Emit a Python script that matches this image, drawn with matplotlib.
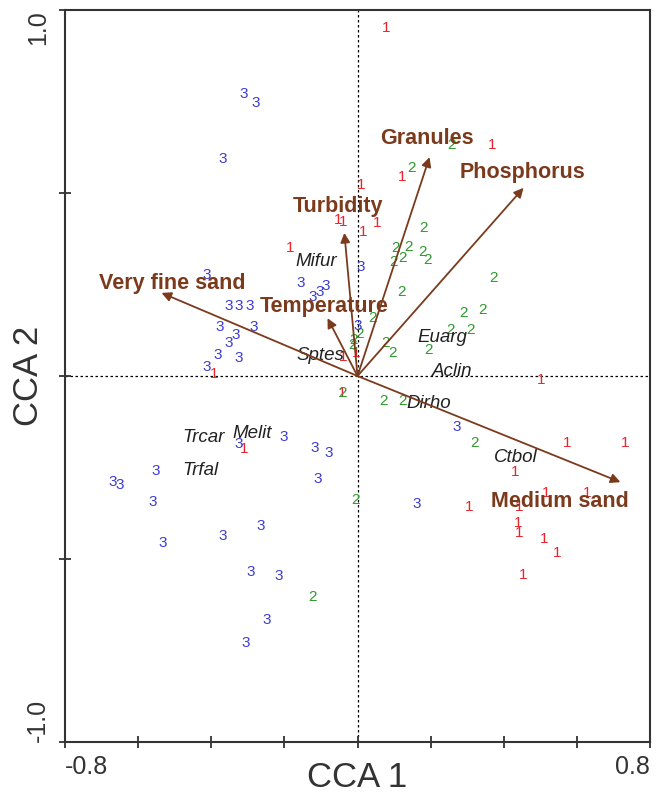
import matplotlib.pyplot as plt

plt.rcParams['font.family'] = ['Liberation Sans', 'DejaVu Sans']

# site scores, group 1 (red), 2 (green), 3 (blue)
g1_x = [0.077, 0.369, 0.123, 0.011, -0.052, -0.038, 0.055, 0.014, -0.183, -0.038, -0.005,
        -0.391, -0.041, 0.501, -0.309, 0.574, 0.733, 0.432, 0.517, 0.629, 0.306, 0.443,
        0.440, 0.443, 0.509, 0.547, 0.454]
g1_y = [0.951, 0.631, 0.544, 0.522, 0.426, 0.421, 0.418, 0.393, 0.350, 0.052, 0.063,
        0.005, -0.046, -0.011, -0.199, -0.183, -0.183, -0.262, -0.320, -0.320, -0.358, -0.358,
        -0.402, -0.429, -0.445, -0.484, -0.544]
g2_x = [0.257, 0.148, 0.181, 0.104, 0.139, 0.123, 0.098, 0.178, 0.191, 0.372, 0.120, 0.041,
        0.290, 0.342, 0.005, -0.011, -0.014, 0.254, 0.309, 0.077, 0.096, 0.194, -0.041, 0.071,
        0.123, 0.320, -0.005, -0.123]
g2_y = [0.631, 0.568, 0.404, 0.350, 0.352, 0.322, 0.311, 0.339, 0.317, 0.268, 0.230, 0.158,
        0.172, 0.180, 0.115, 0.098, 0.085, 0.126, 0.126, 0.090, 0.063, 0.071, -0.046, -0.068,
        -0.068, -0.183, -0.339, -0.604]
g3_x = [-0.312, -0.279, -0.369, -0.413, -0.156, -0.088, -0.104, -0.123, -0.353, -0.325, -0.295,
        -0.284, -0.377, -0.334, -0.353, -0.383, -0.325, -0.413, 0.008, 0.000, -0.325, -0.202,
        -0.118, -0.079, -0.553, -0.670, -0.651, -0.109, -0.561, -0.265, -0.369, -0.533, -0.293,
        -0.216, -0.249, -0.306, 0.271, 0.161]
g3_y = [0.770, 0.746, 0.593, 0.276, 0.254, 0.246, 0.230, 0.216, 0.191, 0.191, 0.191,
        0.134, 0.134, 0.112, 0.090, 0.057, 0.049, 0.025, 0.298, 0.137, -0.186, -0.167,
        -0.197, -0.210, -0.260, -0.290, -0.298, -0.281, -0.344, -0.410, -0.437, -0.456, -0.536,
        -0.546, -0.667, -0.730, -0.139, -0.350]

# environmental vectors
env_names = ['Granules', 'Phosphorus', 'Turbidity', 'Temperature', 'Very fine sand', 'Medium sand']
env_x = [0.197, 0.454, -0.036, -0.082, -0.536, 0.719]
env_y = [0.598, 0.514, 0.391, 0.158, 0.227, -0.290]
env_lab_x = [0.191, 0.451, -0.052, -0.090, -0.506, 0.553]
env_lab_y = [0.650, 0.555, 0.462, 0.189, 0.254, -0.342]

# species
sp_names = ['Mifur', 'Sptes', 'Euarg', 'Aclin', 'Dirho', 'Ctbol', 'Trcar', 'Melit', 'Trfal']
sp_x = [-0.112, -0.101, 0.232, 0.260, 0.194, 0.432, -0.421, -0.287, -0.429]
sp_y = [0.314, 0.057, 0.104, 0.011, -0.074, -0.224, -0.169, -0.156, -0.257]

brown = '#7b3a1c'
axcol = '#333333'

fig = plt.figure(figsize=(6.59, 8), dpi=100)
ax = fig.add_axes([0.0986, 0.0725, 0.8878, 0.915])
ax.set_xlim(-0.8, 0.8)
ax.set_ylim(-1.0, 1.0)

ax.axvline(0, color='k', ls=(0, (2, 2)), lw=0.9, zorder=1)
ax.axhline(0, color='k', ls=(0, (2, 2)), lw=0.9, zorder=1)

for xs, ys, lab, col in [(g1_x, g1_y, '1', '#e8242c'), (g2_x, g2_y, '2', '#2e9a2e'),
                         (g3_x, g3_y, '3', '#3c3cd2')]:
    for x, y in zip(xs, ys):
        ax.text(x, y, lab, color=col, fontsize=11, ha='center', va='center', zorder=2)

for name, x, y in zip(sp_names, sp_x, sp_y):
    ax.text(x, y, name, color='#222222', fontsize=13.5, style='italic',
            ha='center', va='center', zorder=3)

for x, y in zip(env_x, env_y):
    ax.annotate('', xy=(x, y), xytext=(0, 0),
                arrowprops=dict(arrowstyle='-|>', color=brown, lw=1.3,
                                mutation_scale=14, shrinkA=0, shrinkB=0), zorder=4)
for name, x, y in zip(env_names, env_lab_x, env_lab_y):
    ax.text(x, y, name, color=brown, fontsize=15.5, fontweight='bold',
            ha='center', va='center', zorder=5)

ax.set_xticks([-0.8, -0.6, -0.4, -0.2, 0, 0.2, 0.4, 0.6, 0.8])
ax.set_yticks([-1.0, -0.5, 0, 0.5, 1.0])
ax.set_xticklabels([])
ax.set_yticklabels([])
ax.tick_params(direction='inout', length=8, width=1.3, color=axcol)
for s in ax.spines.values():
    s.set_color(axcol)
    s.set_linewidth(1.5)

ax.text(-0.8, -1.035, '-0.8', fontsize=18, ha='left', va='top', color=axcol)
ax.text(0.8, -1.035, '0.8', fontsize=18, ha='right', va='top', color=axcol)
ax.text(-0.84, 1.0, '1.0', fontsize=18, rotation=90, ha='right', va='top', color=axcol)
ax.text(-0.84, -1.0, '-1.0', fontsize=18, rotation=90, ha='right', va='bottom', color=axcol)

fig.text(0.542, 0.028, 'CCA 1', fontsize=25, color=axcol, ha='center', va='center')
fig.text(0.043, 0.53, 'CCA 2', fontsize=25, color=axcol, ha='center', va='center',
         rotation=90)

fig.savefig('out.png', dpi=100)
